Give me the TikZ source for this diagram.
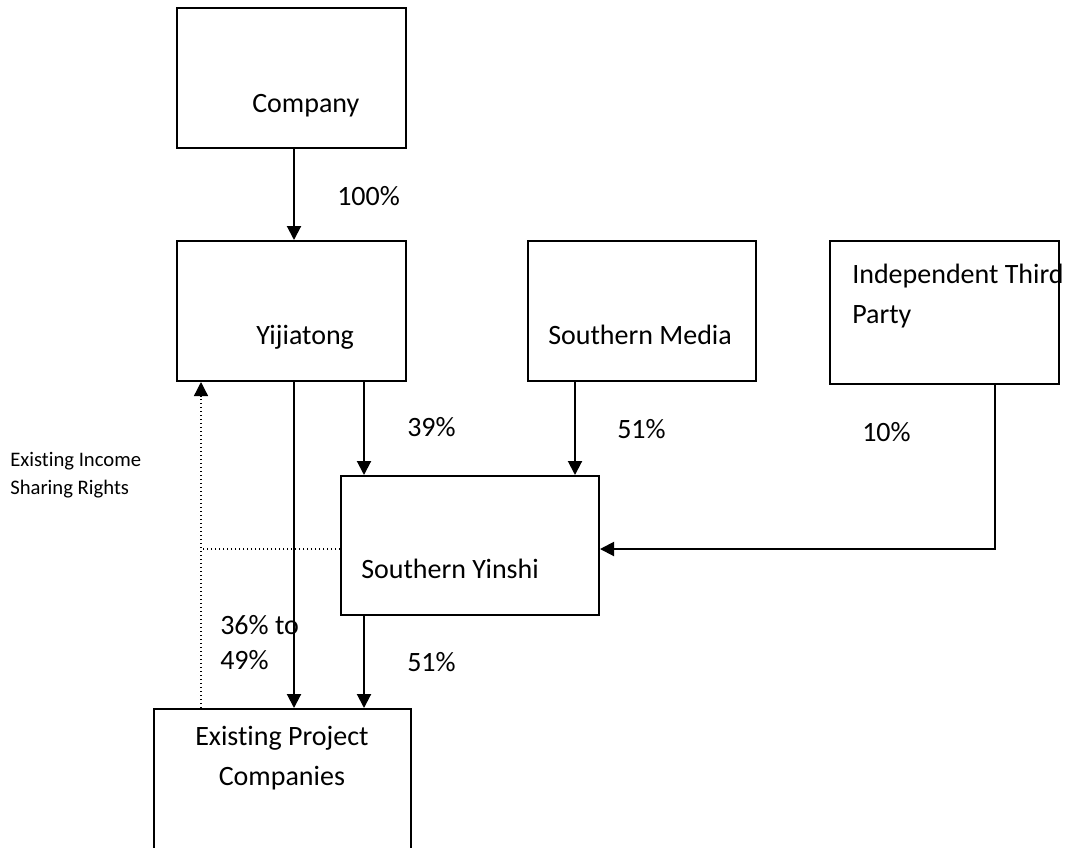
\documentclass[tikz,border=0pt]{standalone}
\usepackage{fontspec}
\setmainfont{Carlito}[Ligatures={NoCommon}]
\usetikzlibrary{arrows.meta}
\tikzset{
  box/.style={draw, line width=1.5pt, inner sep=0pt, fill=white},
  lbl/.style={anchor=base west, inner sep=0pt, font=\fontsize{21}{29.5}\selectfont, align=left},
  small/.style={anchor=base west, inner sep=0pt, font=\fontsize{15.5}{21}\selectfont, align=left},
  arr/.style={line width=1.5pt, -{Triangle[width=10.5pt,length=10.5pt]}},
  dotarr/.style={line width=1pt, dotted, -{Triangle[width=10.5pt,length=10.5pt]}},
  dotline/.style={line width=1pt, dotted}
}
\begin{document}
\begin{tikzpicture}[x=0.75pt,y=-0.75pt]
\useasboundingbox (0,0) rectangle (1087,847);
% columns
\coordinate (xA) at (294,0);
\coordinate (xB) at (364,0);
\coordinate (xC) at (575,0);
\coordinate (xD) at (995,0);
\coordinate (xE) at (201,0);
\coordinate (yM) at (0,549);
% boxes
\node[box, minimum width=171.75pt, minimum height=105pt] (company) at (291.5,78) {};
\node[box, minimum width=171.75pt, minimum height=105pt] (yij) at (291.5,311) {};
\node[box, minimum width=171pt, minimum height=105pt] (media) at (642,311) {};
\node[box, minimum width=171.75pt, minimum height=107.25pt] (third) at (944.5,312.5) {};
\node[box, minimum width=193.5pt, minimum height=104.25pt] (yinshi) at (470,545.5) {};
\node[box, minimum width=192.75pt, minimum height=113.25pt] (epc) at (282.5,784.5) {};
% texts
\node[lbl] (tcompany) at (252,112) {Company};
\node[lbl] (tyij) at (256,344) {Yijiatong};
\node[lbl] (tmedia) at (548,344) {Southern Media};
\node[lbl] (tthird) at (852,323) {Independent Third\\Party};
\node[lbl] (tyinshi) at (361,578) {Southern Yinshi};
\node[lbl, align=center] (tepc) at (195,785) {Existing Project\\Companies};
\node[lbl] (p100) at (337,205) {100\%};
\node[lbl] (p39) at (407,436) {39\%};
\node[lbl] (p51a) at (617,438) {51\%};
\node[lbl] (p10) at (862,441) {10\%};
\node[lbl, font=\fontsize{21}{26}\selectfont] (p36) at (220,669) {36\% to\\49\%};
\node[lbl] (p51b) at (407,671) {51\%};
\node[small] (tincome) at (10,494) {Existing Income\\Sharing Rights};
% connectors
\draw[arr] (company.south -| xA) -- (yij.north -| xA);
\draw[arr] (yij.south -| xA) -- (epc.north -| xA);
\draw[arr] (yij.south -| xB) -- (yinshi.north -| xB);
\draw[arr] (media.south -| xC) -- (yinshi.north -| xC);
\draw[arr] (third.south -| xD) -- (xD |- yM) -- (yinshi.east |- yM);
\draw[arr] (yinshi.south -| xB) -- (epc.north -| xB);
\draw[dotline] (yinshi.west |- yM) -- (xE |- yM);
\draw[dotarr] (epc.north -| xE) -- (yij.south -| xE);
\end{tikzpicture}
\end{document}
